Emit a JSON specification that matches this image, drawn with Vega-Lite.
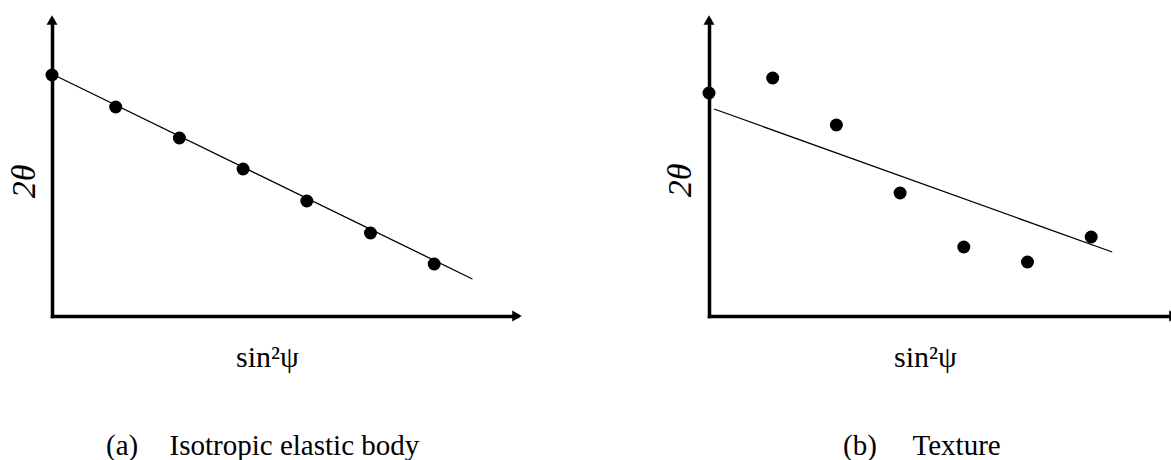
{
  "$schema": "https://vega.github.io/schema/vega-lite/v6.json",
  "background": "white",
  "padding": {"left": 7, "top": 15, "right": 0, "bottom": 0},
  "bounds": "flush",
  "spacing": 192,
  "config": {
    "view": {"stroke": null},
    "font": "Liberation Serif",
    "axis": {
      "domainColor": "black",
      "domainWidth": 3.5,
      "domainCap": "square",
      "ticks": false,
      "labels": false,
      "grid": false,
      "titleFont": "Liberation Serif",
      "titleFontWeight": "normal",
      "titleColor": "black"
    },
    "title": {
      "font": "Liberation Serif",
      "fontSize": 29,
      "fontWeight": "normal",
      "color": "black",
      "orient": "bottom",
      "anchor": "start",
      "frame": "group",
      "offset": 60
    }
  },
  "datasets": {
    "iso": [
      {"s2psi": 0.0, "two_theta": 2.41},
      {"s2psi": 0.1, "two_theta": 2.09},
      {"s2psi": 0.2, "two_theta": 1.78},
      {"s2psi": 0.3, "two_theta": 1.47},
      {"s2psi": 0.4, "two_theta": 1.15},
      {"s2psi": 0.5, "two_theta": 0.83},
      {"s2psi": 0.6, "two_theta": 0.52}
    ],
    "isoFit": [
      {"s2psi": 0.0, "two_theta": 2.42},
      {"s2psi": 0.66, "two_theta": 0.37}
    ],
    "tex": [
      {"s2psi": 0.0, "two_theta": 2.23},
      {"s2psi": 0.1, "two_theta": 2.38},
      {"s2psi": 0.2, "two_theta": 1.91},
      {"s2psi": 0.3, "two_theta": 1.23},
      {"s2psi": 0.4, "two_theta": 0.69},
      {"s2psi": 0.5, "two_theta": 0.54},
      {"s2psi": 0.6, "two_theta": 0.79}
    ],
    "texFit": [
      {"s2psi": 0.008, "two_theta": 2.07},
      {"s2psi": 0.633, "two_theta": 0.64}
    ]
  },
  "hconcat": [
    {
      "width": 465,
      "height": 296,
      "title": {"text": "(a)\u2003\u200aIsotropic elastic body", "dx": 54},
      "layer": [
        {
          "data": {"name": "isoFit"},
          "mark": {"type": "line", "color": "black", "strokeWidth": 1.3},
          "encoding": {
            "x": {"field": "s2psi", "type": "quantitative", "scale": {"domain": [0, 0.73], "nice": false, "zero": false},
                  "axis": {"title": "sin²ψ", "titleFontSize": 30, "titleX": 215, "titleY": 50, "titleAlign": "center", "titleBaseline": "alphabetic"}},
            "y": {"field": "two_theta", "type": "quantitative", "scale": {"domain": [0, 2.96], "nice": false, "zero": false},
                  "axis": {"title": "2θ", "titleFontSize": 34, "titleFontStyle": "italic", "titleX": -28, "titleY": 161, "titleAlign": "center", "titleBaseline": "middle", "titleAngle": -90}}
          }
        },
        {
          "data": {"name": "iso"},
          "mark": {"type": "point", "shape": "circle", "filled": true, "size": 169, "color": "black", "opacity": 1},
          "encoding": {
            "x": {"field": "s2psi", "type": "quantitative"},
            "y": {"field": "two_theta", "type": "quantitative"}
          }
        },
        {
          "data": {"values": [{}]},
          "mark": {"type": "point", "shape": "triangle-up", "filled": true, "size": 121, "color": "black", "opacity": 1},
          "encoding": {"x": {"datum": 0, "type": "quantitative"}, "y": {"datum": 2.96, "type": "quantitative"}}
        },
        {
          "data": {"values": [{}]},
          "mark": {"type": "point", "shape": "triangle-right", "filled": true, "size": 121, "color": "black", "opacity": 1},
          "encoding": {"x": {"datum": 0.73, "type": "quantitative"}, "y": {"datum": 0, "type": "quantitative"}}
        }
      ]
    },
    {
      "width": 465,
      "height": 296,
      "title": {"text": "(b)\u2003 Texture", "dx": 134},
      "layer": [
        {
          "data": {"name": "texFit"},
          "mark": {"type": "line", "color": "black", "strokeWidth": 1.3},
          "encoding": {
            "x": {"field": "s2psi", "type": "quantitative", "scale": {"domain": [0, 0.73], "nice": false, "zero": false},
                  "axis": {"title": "sin²ψ", "titleFontSize": 30, "titleX": 216, "titleY": 50, "titleAlign": "center", "titleBaseline": "alphabetic"}},
            "y": {"field": "two_theta", "type": "quantitative", "scale": {"domain": [0, 2.96], "nice": false, "zero": false},
                  "axis": {"title": "2θ", "titleFontSize": 34, "titleFontStyle": "italic", "titleX": -29, "titleY": 160, "titleAlign": "center", "titleBaseline": "middle", "titleAngle": -90}}
          }
        },
        {
          "data": {"name": "tex"},
          "mark": {"type": "point", "shape": "circle", "filled": true, "size": 169, "color": "black", "opacity": 1},
          "encoding": {
            "x": {"field": "s2psi", "type": "quantitative"},
            "y": {"field": "two_theta", "type": "quantitative"}
          }
        },
        {
          "data": {"values": [{}]},
          "mark": {"type": "point", "shape": "triangle-up", "filled": true, "size": 121, "color": "black", "opacity": 1},
          "encoding": {"x": {"datum": 0, "type": "quantitative"}, "y": {"datum": 2.96, "type": "quantitative"}}
        },
        {
          "data": {"values": [{}]},
          "mark": {"type": "point", "shape": "triangle-right", "filled": true, "size": 121, "color": "black", "opacity": 1},
          "encoding": {"x": {"datum": 0.73, "type": "quantitative"}, "y": {"datum": 0, "type": "quantitative"}}
        }
      ]
    }
  ]
}
